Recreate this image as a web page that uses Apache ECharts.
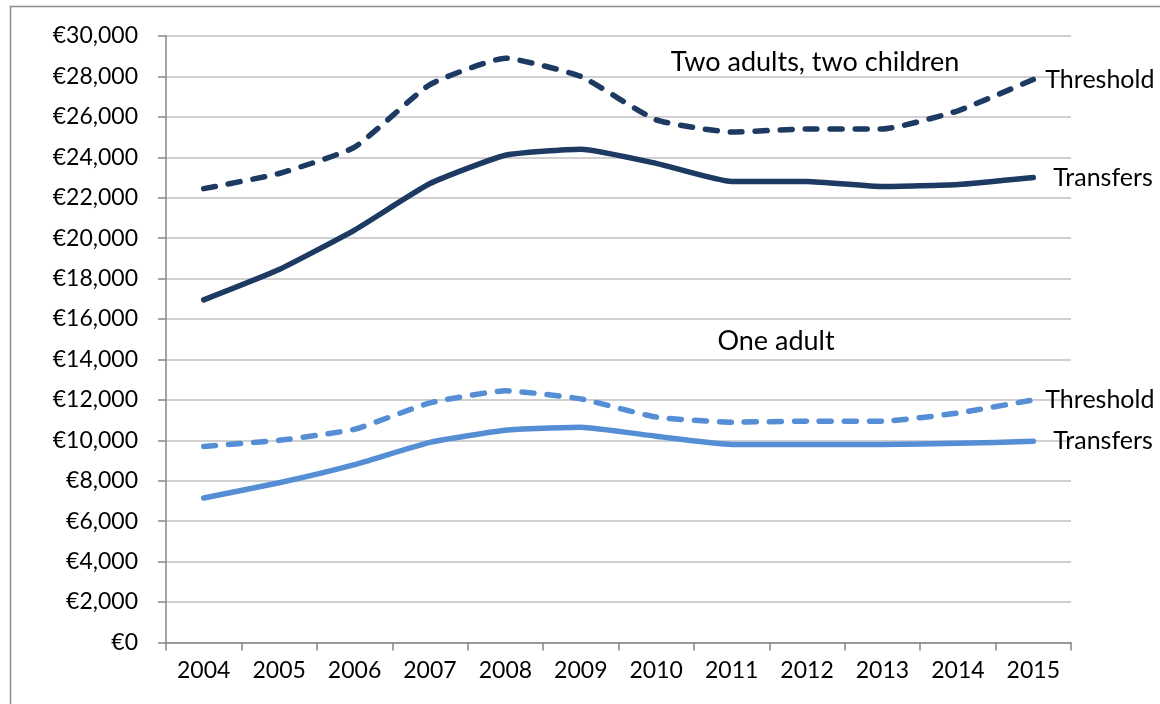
<!DOCTYPE html>
<html>
<head>
<meta charset="utf-8">
<script src="https://cdn.jsdelivr.net/npm/echarts@6/dist/echarts.min.js"></script>
<style>
  html, body { margin: 0; padding: 0; background: #ffffff; }
  #chart { width: 1160px; height: 704px; }
</style>
</head>
<body>
<div id="chart"></div>
<script>
// Poverty thresholds and income from transfers, 2004–2015 (euro per year)
const years = ['2004', '2005', '2006', '2007', '2008', '2009', '2010', '2011', '2012', '2013', '2014', '2015'];

// Two adults, two children
const coupleThreshold = [22450, 23200, 24500, 27600, 28900, 28000, 25850, 25250, 25400, 25400, 26300, 27850];
const coupleTransfers = [16950, 18450, 20400, 22700, 24100, 24400, 23700, 22800, 22800, 22550, 22650, 23000];

// One adult
const singleThreshold = [9700, 10000, 10550, 11850, 12450, 12050, 11150, 10900, 10950, 10950, 11350, 12000];
const singleTransfers = [7150, 7900, 8800, 9900, 10500, 10650, 10200, 9800, 9800, 9800, 9850, 9950];

const DARK = '#1d3a62';
const LIGHT = '#558ed5';
const FONT = 'Lato';

function lineSeries(name, data, color, dashed, endText, endDistance) {
  return {
    name: name,
    type: 'line',
    data: data,
    smooth: 0.15,
    symbol: 'none',
    lineStyle: {
      color: color,
      width: 5.5,
      type: dashed ? [12, 13] : 'solid',
      cap: 'round',
      join: 'round'
    },
    endLabel: {
      show: true,
      formatter: endText,
      distance: endDistance,
      color: '#000',
      fontFamily: FONT,
      fontSize: 25
    },
    emphasis: { disabled: true }
  };
}

const chart = echarts.init(document.getElementById('chart'));
chart.setOption({
  animation: false,
  backgroundColor: '#ffffff',
  grid: { left: 166, top: 36, right: 89, bottom: 61.5, containLabel: false },
  xAxis: {
    type: 'category',
    data: years,
    boundaryGap: true,
    axisLine: { show: true, lineStyle: { color: '#868686', width: 1.5 } },
    axisTick: { show: true, length: 8, alignWithLabel: false, lineStyle: { color: '#868686', width: 1.5 } },
    axisLabel: { color: '#000', fontFamily: FONT, fontSize: 23, margin: 17 },
    splitLine: { show: false }
  },
  yAxis: {
    type: 'value',
    min: 0,
    max: 30000,
    interval: 2000,
    axisLine: { show: true, lineStyle: { color: '#868686', width: 1.5 } },
    axisTick: { show: true, length: 8, lineStyle: { color: '#868686', width: 1.5 } },
    axisLabel: {
      color: '#000',
      fontFamily: FONT,
      fontSize: 23,
      margin: 28,
      formatter: v => '€' + v.toLocaleString('en-US')
    },
    splitLine: { show: true, lineStyle: { color: '#c0c0c0', width: 1.5 } }
  },
  series: [
    lineSeries('Two adults, two children – Threshold', coupleThreshold, DARK, true, 'Threshold', 12),
    lineSeries('Two adults, two children – Transfers', coupleTransfers, DARK, false, 'Transfers', 20),
    lineSeries('One adult – Threshold', singleThreshold, LIGHT, true, 'Threshold', 12),
    lineSeries('One adult – Transfers', singleTransfers, LIGHT, false, 'Transfers', 20)
  ],
  graphic: [
    {
      type: 'rect',
      shape: { x: 10.5, y: 6.5, width: 1300, height: 900 },
      style: { fill: null, stroke: '#8c8c8c', lineWidth: 1.5 },
      silent: true,
      z: -1
    },
    {
      type: 'text',
      x: 815,
      y: 62,
      style: {
        text: 'Two adults, two children',
        fill: '#000',
        font: '27px ' + FONT,
        textAlign: 'center',
        textVerticalAlign: 'middle'
      }
    },
    {
      type: 'text',
      x: 776,
      y: 341,
      style: {
        text: 'One adult',
        fill: '#000',
        font: '27px ' + FONT,
        textAlign: 'center',
        textVerticalAlign: 'middle'
      }
    }
  ]
});
</script>
</body>
</html>
